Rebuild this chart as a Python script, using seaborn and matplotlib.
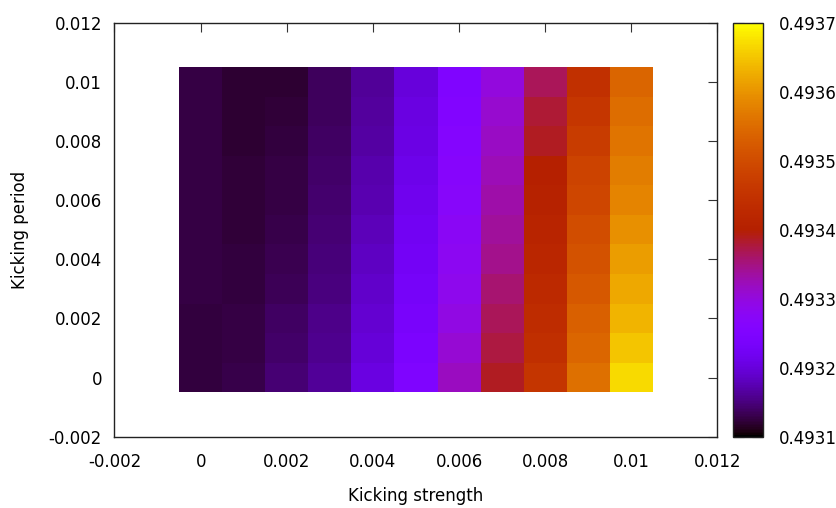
import numpy as np
import pandas as pd
import matplotlib
matplotlib.use("Agg")
import matplotlib.pyplot as plt
import seaborn as sns

# ---- data ----
kicking_strength = [0.0, 0.001, 0.002, 0.003, 0.004, 0.005, 0.006, 0.007, 0.008, 0.009, 0.010]
kicking_period = [0.0, 0.001, 0.002, 0.003, 0.004, 0.005, 0.006, 0.007, 0.008, 0.009, 0.010]

# one list per kicking strength, values ordered by kicking period 0 -> 0.01
col_s0 = [0.4931252, 0.4931252, 0.4931252, 0.4931258, 0.4931258, 0.4931258, 0.4931258, 0.4931258, 0.4931258, 0.4931264, 0.4931264]
col_s1 = [0.4931288, 0.4931270, 0.4931258, 0.4931246, 0.4931240, 0.4931228, 0.4931222, 0.4931216, 0.4931210, 0.4931204, 0.4931198]
col_s2 = [0.4931450, 0.4931408, 0.4931378, 0.4931348, 0.4931324, 0.4931300, 0.4931276, 0.4931258, 0.4931240, 0.4931222, 0.4931210]
col_s3 = [0.4931612, 0.4931576, 0.4931540, 0.4931510, 0.4931486, 0.4931462, 0.4931438, 0.4931414, 0.4931390, 0.4931372, 0.4931354]
col_s4 = [0.4932032, 0.4931972, 0.4931918, 0.4931870, 0.4931828, 0.4931786, 0.4931750, 0.4931714, 0.4931678, 0.4931648, 0.4931618]
col_s5 = [0.4932488, 0.4932416, 0.4932356, 0.4932302, 0.4932248, 0.4932200, 0.4932152, 0.4932110, 0.4932068, 0.4932032, 0.4931996]
col_s6 = [0.4933190, 0.4933076, 0.4932968, 0.4932860, 0.4932806, 0.4932758, 0.4932704, 0.4932656, 0.4932608, 0.4932560, 0.4932512]
col_s7 = [0.4933880, 0.4933760, 0.4933658, 0.4933568, 0.4933448, 0.4933382, 0.4933316, 0.4933232, 0.4933160, 0.4933088, 0.4933004]
col_s8 = [0.4934540, 0.4934420, 0.4934330, 0.4934270, 0.4934180, 0.4934120, 0.4934060, 0.4934000, 0.4933874, 0.4933790, 0.4933658]
col_s9 = [0.4935560, 0.4935422, 0.4935332, 0.4935212, 0.4935110, 0.4935008, 0.4934900, 0.4934822, 0.4934702, 0.4934576, 0.4934438]
col_s10 = [0.4936676, 0.4936496, 0.4936340, 0.4936220, 0.4936094, 0.4935962, 0.4935818, 0.4935716, 0.4935614, 0.4935506, 0.4935392]

axis_ticks = [-0.002, 0.0, 0.002, 0.004, 0.006, 0.008, 0.010, 0.012]
axis_ticklabels = ["-0.002", "0", "0.002", "0.004", "0.006", "0.008", "0.01", "0.012"]
cbar_ticks = [0.4931, 0.4932, 0.4933, 0.4934, 0.4935, 0.4936, 0.4937]
cbar_ticklabels = ["0.4931", "0.4932", "0.4933", "0.4934", "0.4935", "0.4936", "0.4937"]

columns = [col_s0, col_s1, col_s2, col_s3, col_s4, col_s5, col_s6, col_s7, col_s8, col_s9, col_s10]
grid = pd.DataFrame(np.column_stack(columns), index=kicking_period, columns=kicking_strength)
grid = grid.iloc[::-1]  # heatmap draws first row on top

sns.set_style("white")
plt.rcParams["font.family"] = ["DejaVu Sans"]
plt.rcParams["font.size"] = 12
plt.rcParams["text.color"] = "black"
plt.rcParams["xtick.labelcolor"] = "black"
plt.rcParams["ytick.labelcolor"] = "black"

W, H = 837, 508
fig = plt.figure(figsize=(W / 100, H / 100), dpi=100)

left, right, top, bottom = 114.5, 717.5, 22.7, 436.7
ax = fig.add_axes([left / W, (H - bottom) / H, (right - left) / W, (bottom - top) / H])
ax.set_xlim(-0.002, 0.012)
ax.set_ylim(-0.002, 0.012)
ax.set_xticks(axis_ticks)
ax.set_xticklabels(axis_ticklabels)
ax.set_yticks(axis_ticks)
ax.set_yticklabels(axis_ticklabels)
ax.tick_params(axis="both", direction="in", length=6.5, width=0.8, color="#333333",
               top=True, right=True, labelsize=12, labelcolor="black")
ax.tick_params(axis="x", pad=12)
ax.tick_params(axis="y", pad=9)
for sp in ax.spines.values():
    sp.set_color("#222222")
    sp.set_linewidth(1.0)

step = kicking_strength[1] - kicking_strength[0]
x0 = kicking_strength[0] - step / 2
y0 = kicking_period[0] - step / 2
hax = ax.inset_axes([x0, y0, step * len(kicking_strength), step * len(kicking_period)],
                    transform=ax.transData)

cb_l, cb_r = 733.3, 763.5
cax = fig.add_axes([cb_l / W, (H - bottom) / H, (cb_r - cb_l) / W, (bottom - top) / H])

sns.heatmap(grid, ax=hax, cmap="gnuplot", vmin=0.4931, vmax=0.4937,
            cbar_ax=cax, xticklabels=False, yticklabels=False, linewidths=0)
hax.set_axis_off()

cb = hax.collections[0].colorbar
cb.set_ticks(cbar_ticks)
cb.set_ticklabels(cbar_ticklabels)
cb.outline.set_linewidth(1.0)
cb.outline.set_edgecolor("#222222")
cax.tick_params(direction="in", length=8, width=0.8, color="#333333",
                left=True, right=True, labelleft=False, labelright=True,
                labelsize=12, pad=11, labelcolor="black")

fig.text((left + right) / 2 / W, (H - 496) / H, "Kicking strength",
         ha="center", va="center", fontsize=12, color="black")
fig.text(20 / W, (H - (top + bottom) / 2) / H, "Kicking period",
         ha="center", va="center", rotation=90, fontsize=12, color="black")

fig.savefig("out.png", dpi=100)
